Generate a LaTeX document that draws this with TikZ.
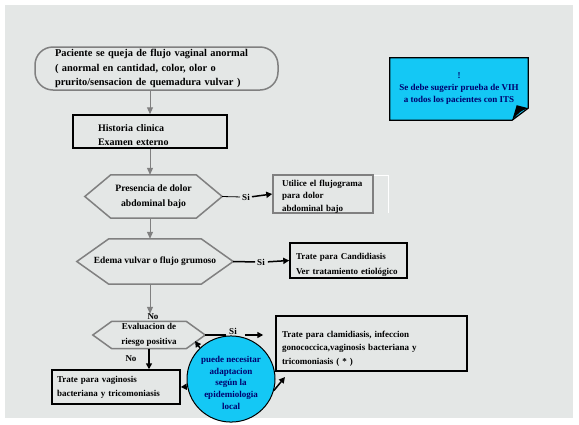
\documentclass[tikz,border=0pt]{standalone}
\usepackage{fontspec}
\setmainfont{Liberation Serif}
\usetikzlibrary{arrows.meta,shapes.geometric}

\definecolor{panel}{RGB}{228,231,230}
\definecolor{edge}{RGB}{128,128,128}
\definecolor{cyanfill}{RGB}{20,200,245}
\definecolor{navy}{RGB}{0,0,110}
\newcommand\fsz[2]{\bfseries\fontsize{#1}{#2}\selectfont}
\newcommand\lift[1]{\rule{0pt}{#1}}

\begin{document}
\begin{tikzpicture}[x=1pt,y=-1pt,
  every node/.style={font=\fsz{9}{13.5},inner sep=0pt},
  box/.style={draw,line width=1.5pt,align=left,inner xsep=#1},
  hexnode/.style={align=center},
  hexline/.style={draw=edge,line width=1.5pt},
  garrow/.style={draw=edge,line width=1pt,-{Triangle[width=6pt,length=7pt]}},
  bline/.style={line width=1.5pt},
  barrow/.style={line width=1.5pt,-{Triangle[width=6pt,length=6pt]}}]
  \useasboundingbox (0,0) rectangle (579,424);
  \fill[panel] (5,5) rectangle (573,418);

  % main column
  \node[box=20pt,draw=edge,rounded corners=18pt,text width=203pt,minimum height=43pt,
    font=\fsz{10.4}{14.5}] (start) at (156.5,68.5)
    {Paciente se queja de flujo vaginal anormal\\( anormal en cantidad, color, olor o\\prurito/sensacion de quemadura vulvar )};
  \node[box=25pt,text width=104pt,minimum height=33pt,font=\fsz{10}{14}] (hist) at (150,131.5)
    {\lift{14.6pt}Historia clinica\\Examen externo};
  \node[hexnode,minimum width=137pt,minimum height=43pt,font=\fsz{9.7}{15}] (hex1) at (153.5,196.5)
    {Presencia de dolor\\abdominal bajo};
  \node[hexnode,minimum width=156pt,minimum height=45pt,font=\fsz{9.4}{15}] (hex2) at (155,261.5)
    {Edema vulvar o flujo grumoso};
  \node[hexnode,minimum width=112pt,minimum height=27pt,font=\fsz{9}{15}] (hex3) at (149,335)
    {Evaluacion de\\riesgo positiva};
  \foreach \h/\c in {hex1/26pt,hex2/32pt,hex3/19pt}
    \draw[hexline] (\h.west) -- ([xshift=\c]\h.north west) -- ([xshift=-\c]\h.north east)
      -- (\h.east) -- ([xshift=-\c]\h.south east) -- ([xshift=\c]\h.south west) -- cycle;

  % right column
  \draw[white,line width=1pt] (323,175) -- (388,175) -- (388,213);
  \node[box=9pt,draw=edge,fill=panel,text width=82pt,minimum height=38pt,font=\fsz{9}{12.5}] (util) at (323,194)
    {\lift{11pt}Utilice el flujograma\\para dolor\\abdominal bajo};
  \node[box=6pt,text width=105pt,minimum height=35pt,font=\fsz{9}{15}] (cand) at (348.5,260.5)
    {\lift{15pt}Trate para Candidiasis\\Ver tratamiento etiológico};
  \node[box=6pt,text width=179pt,minimum height=55pt] (clam) at (371.5,343.5)
    {\lift{16pt}Trate para clamidiasis, infeccion\\gonococcica,vaginosis bacteriana y\\tricomoniasis ( * )};
  \node[box=5pt,text width=118pt,minimum height=34pt,font=\fsz{9}{14}] (vag) at (116,387)
    {Trate para vaginosis\\bacteriana y tricomoniasis};

  % labels
  \node (si1) at (246,197) {Si};
  \node (si2) at (261,262) {Si};
  \node (si3) at (233,331) {Si};
  \node (no1) at (153,317) {No};
  \node (no2) at (131,359) {No};

  % connectors
  \draw[garrow] (hist.north |- start.south) -- (hist.north);
  \draw[garrow] (hist.south) -- (hist.south |- hex1.north);
  \draw[garrow] (hist.south |- hex1.south) -- (hist.south |- hex2.north);
  \draw[garrow] (hist.south |- hex2.south) -- (hist.south |- no1.north);
  \draw[line width=0.8pt,shorten >=2pt] (hex1.east) -- (si1.west);
  \draw[barrow,shorten <=2pt] (si1.east) -- (util.west);
  \draw[bline,shorten >=2pt] (hex2.east) -- (si2.west);
  \draw[barrow,shorten <=3pt] (si2.east) -- (cand.west);
  \draw[bline] (hex3.east) -- ([xshift=-3pt]hex3.east -| si3.west);
  \draw[barrow,shorten >=12pt] ([xshift=8pt]hex3.east -| si3.east) -- (hex3.east -| clam.west);
  \draw[barrow] (hex3.south) -- (hex3.south |- vag.north);

  % note
  \node[fill=cyanfill,text=navy,minimum width=138pt,minimum height=62pt,align=center,font=\fsz{9}{12}] (note) at (459,89)
    {!\\Se debe sugerir prueba de VIH\\a todos los pacientes con ITS};
  \fill[panel] ([xshift=1pt,yshift=13pt]note.south east) -- ([xshift=1pt,yshift=-1pt]note.south east)
    -- ([xshift=-17pt,yshift=-1pt]note.south east) -- cycle;
  \draw[line width=1.2pt] (note.south west) -- (note.north west) -- (note.north east)
    -- ([yshift=12pt]note.south east) -- ([xshift=-16pt]note.south east) -- cycle;
  \fill ([yshift=12pt]note.south east) .. controls ([xshift=-8pt,yshift=9pt]note.south east) .. ([xshift=-16pt]note.south east)
    -- ([xshift=-11.5pt,yshift=15pt]note.south east) -- cycle;

  % circle
  \node[ellipse,draw,line width=1pt,fill=cyanfill,text=navy,minimum width=88pt,minimum height=78pt,
    align=center,font=\fsz{9}{11.7}] (circ) at (231,379)
    {\lift{14pt}puede necesitar\\adaptacion\\según la\\epidemiologia\\local};
  \coordinate (hexse) at (195,341);
  \coordinate (clamtip) at (285,377);
  \draw[barrow] (circ.135) -- (hexse);
  \draw[barrow] (circ.190) -- (vag.east);
  \draw[barrow] (circ.-15) -- (clamtip);
\end{tikzpicture}
\end{document}
